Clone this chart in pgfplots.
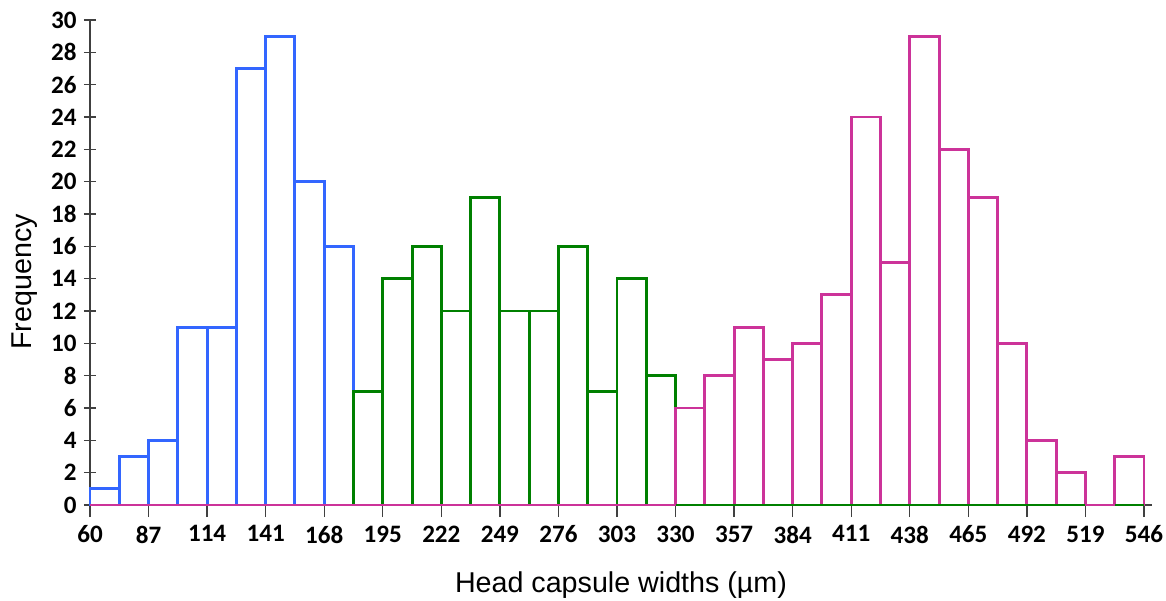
\documentclass[border=0pt]{standalone}
\usepackage{pgfplots}
\pgfplotsset{compat=1.18}
\usepackage{fontspec}
\newfontfamily\carlito{Carlito}
\newfontfamily\arial{Liberation Sans}
\definecolor{cblue}{RGB}{51,102,255}
\definecolor{cgreen}{RGB}{0,128,0}
\definecolor{cmag}{RGB}{204,51,153}
\begin{document}
\begin{tikzpicture}
\begin{axis}[
  at={(0,0)}, anchor=south west,
  scale only axis,
  width=796.5pt, height=363.75pt,
  xmin=60, xmax=549.7, ymin=0, ymax=30,
  axis x line*=bottom, axis y line*=left,
  axis line style={-, black!75, line width=1pt},
  xtick={60,87,...,546}, ytick={0,2,...,30},
  x tick style={black!75, line width=1pt},
  y tick style={black!75, line width=1pt},
  xtick align=outside, ytick align=center,
  major tick length=9pt,
  /pgf/number format/assume math mode=true,
  /pgf/number format/1000 sep={},
  tick label style={font=\carlito\bfseries\fontsize{18.8}{20}\selectfont},
  xticklabel style={yshift=-3pt},
  yticklabel style={xshift=-2pt},
  xlabel={Head capsule widths (µm)},
  ylabel={Frequency},
  label style={font=\arial\fontsize{21.5}{24}\selectfont},
  xlabel style={at={(axis description cs:0.5,-0.165)}, anchor=center},
  ylabel style={at={(axis description cs:-0.0612,0.46)}, anchor=center, rotate=0},
  clip=false,
]
\addplot[ybar interval, draw=cblue, fill=none, line width=2.2pt] coordinates {
 (60,1) (73.5,3) (87,4) (100.5,11) (114,11) (127.5,27) (141,29) (154.5,20) (168,16) (181.5,0)
};
\addplot[ybar interval, draw=cgreen, fill=none, line width=2.2pt] coordinates {
 (181.5,7) (195,14) (208.5,16) (222,12) (235.5,19) (249,12) (262.5,12) (276,16) (289.5,7) (303,14) (316.5,8) (330,0)
};
\addplot[ybar interval, draw=cmag, fill=none, line width=2.2pt] coordinates {
 (330,6) (343.5,8) (357,11) (370.5,9) (384,10) (397.5,13) (411,24) (424.5,15) (438,29) (451.5,22) (465,19) (478.5,10) (492,4) (505.5,2) (519,0) (532.5,3) (546,0)
};
\addplot[draw=cmag, line width=2.2pt] coordinates {(60,0) (330,0)};
\addplot[draw=cgreen, line width=2.2pt] coordinates {(330,0) (519,0)};
\addplot[draw=cgreen, line width=2.2pt] coordinates {(532.5,0) (546,0)};
\addplot[draw=cmag, line width=2.2pt] coordinates {(519,0) (532.5,0)};
\end{axis}
\pgfresetboundingbox
\path[use as bounding box] (-67.5pt,-71.25pt) rectangle (807pt,378.75pt);
\end{tikzpicture}
\end{document}
